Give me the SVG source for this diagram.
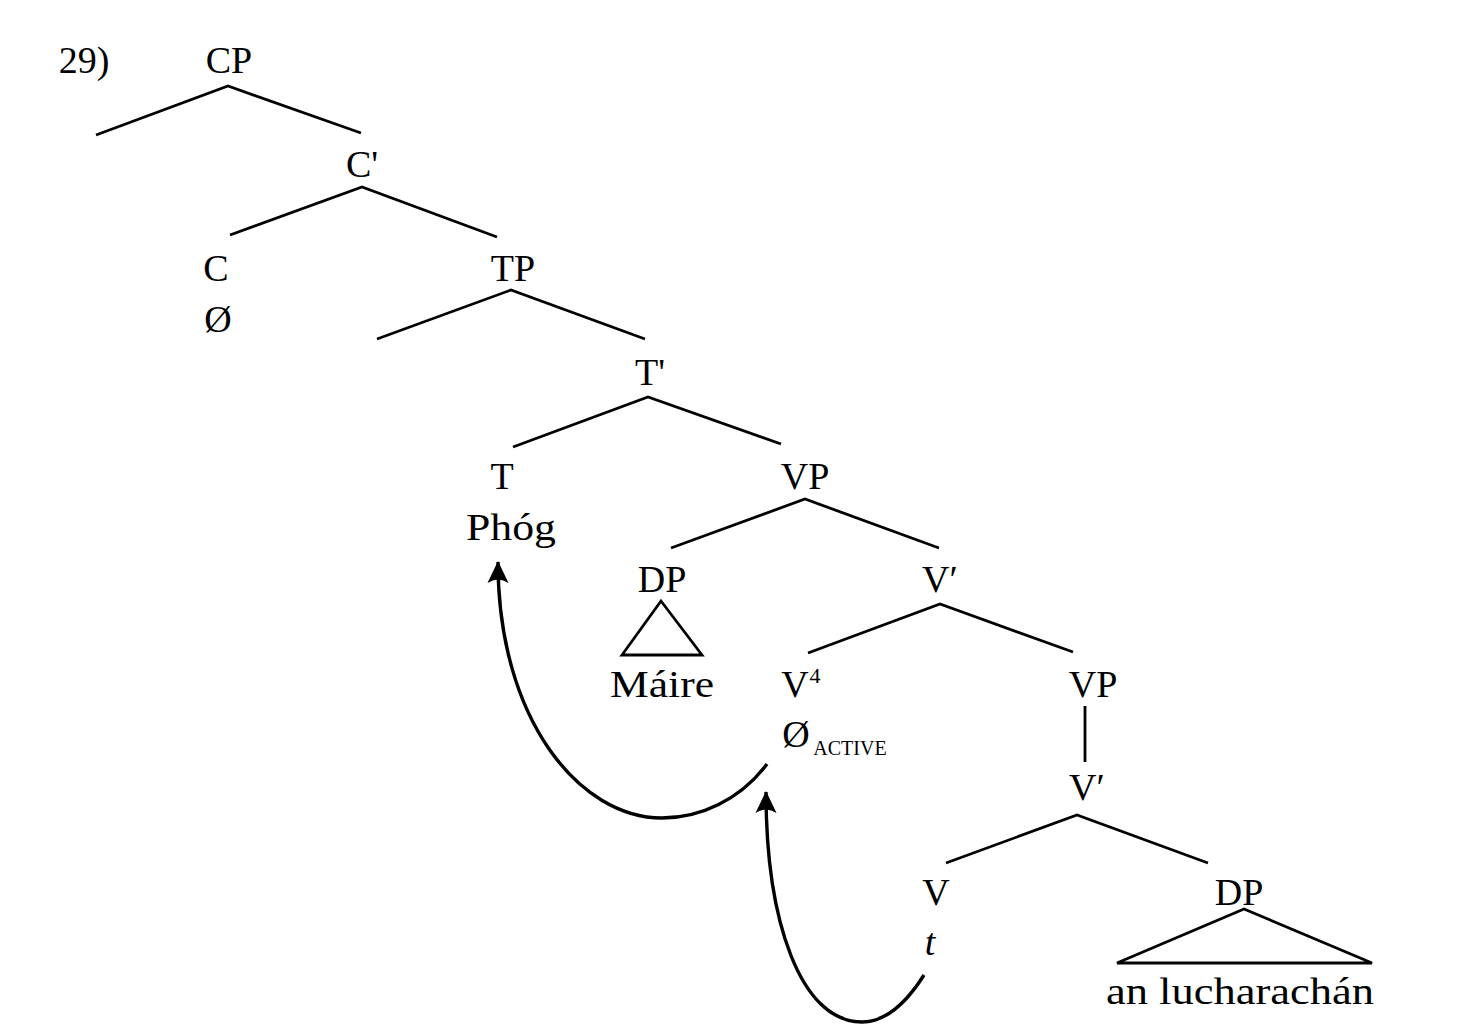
<svg xmlns="http://www.w3.org/2000/svg" width="1468" height="1034" viewBox="0 0 1468 1034">
<style>
text{font-family:"Liberation Serif","Times New Roman",serif;font-size:38px;fill:#000;text-anchor:middle}
.e{stroke:#000;stroke-width:2.8;fill:none;stroke-linecap:butt}
.mv{stroke:#000;stroke-width:3.4;fill:none}
.sc{font-size:20px}
.sup{font-size:22px}
</style>
<defs>
<marker id="ah" viewBox="0 0 24 24" refX="22" refY="12" markerWidth="24" markerHeight="24" markerUnits="userSpaceOnUse" orient="auto">
<path d="M23,12 L1,1.5 Q8,12 1,22.5 Z" fill="#000"/>
</marker>
</defs>
<rect width="1468" height="1034" fill="#fff"/>
<text x="84" y="73">29)</text>
<g id="n-CP"><text x="229" y="73">CP</text></g>
<g id="n-Cbar"><text x="362" y="177">C'</text></g>
<g id="n-C"><text x="216" y="281">C</text><text x="218" y="332">Ø</text></g>
<g id="n-TP"><text x="513" y="281">TP</text></g>
<g id="n-Tbar"><text x="650" y="385">T'</text></g>
<g id="n-T"><text x="502" y="489">T</text><text x="511" y="540" textLength="90" lengthAdjust="spacingAndGlyphs">Phóg</text></g>
<g id="n-VP1"><text x="805" y="489">VP</text></g>
<g id="n-DP1"><text x="662" y="592">DP</text><path class="e" d="M661,601 L622,655 L702,655 Z"/><text x="662" y="697" textLength="104" lengthAdjust="spacingAndGlyphs">Máire</text></g>
<g id="n-Vbar1"><text x="940" y="592">V′</text></g>
<g id="n-V4"><text x="795" y="697">V</text><text class="sup" x="815" y="683">4</text><text x="796" y="747">Ø</text><text class="sc" x="850" y="755">ACTIVE</text></g>
<g id="n-VP2"><text x="1093" y="697">VP</text></g>
<g id="n-Vbar2"><text x="1087" y="800">V′</text></g>
<g id="n-V"><text x="936" y="905">V</text><text x="930" y="955" font-style="italic">t</text></g>
<g id="n-DP2"><text x="1239" y="905">DP</text><path class="e" d="M1244,909 L1117,963 L1372,963 Z"/><text x="1240" y="1004" textLength="268" lengthAdjust="spacingAndGlyphs">an lucharachán</text></g>
<g id="connectors">
<path class="e" d="M96,135 L228,86 L361,133"/>
<path class="e" d="M230,235 L362,187 L497,237"/>
<path class="e" d="M377,339 L511,290 L645,339"/>
<path class="e" d="M513,447 L648,397 L781,444"/>
<path class="e" d="M671,548 L805,499 L939,548"/>
<path class="e" d="M808,653 L940,604 L1073,652"/>
<path class="e" d="M1085,706 L1085,762"/>
<path class="e" d="M946,863 L1077,815 L1208,863"/>
<path class="mv" marker-end="url(#ah)" d="M767,764 C740,800 700,818 662,818 C580,818 498,720 498,562"/>
<path class="mv" marker-end="url(#ah)" d="M924,975 C905,1005 885,1022 862,1022 C800,1022 766,920 766,792"/>
</g>
</svg>
